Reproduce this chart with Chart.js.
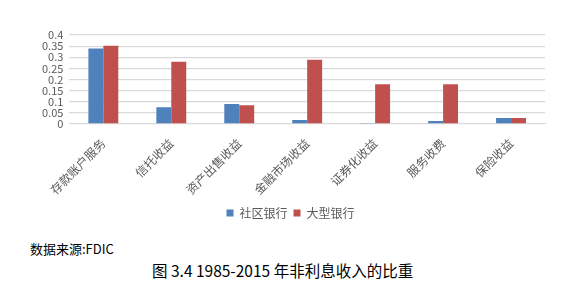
<!DOCTYPE html>
<html><head><meta charset="utf-8">
<script src="https://cdn.jsdelivr.net/npm/chart.js@4/dist/chart.umd.min.js"></script>
<style>
html,body{margin:0;padding:0;background:#fff;width:569px;height:286px;overflow:hidden;}
#wrap{position:absolute;left:0;top:0;width:569px;height:233px;}
.txt{position:absolute;font-family:"Noto Sans CJK SC",sans-serif;color:#000;white-space:nowrap;}
</style></head><body>
<div id="wrap"><canvas id="c"></canvas></div>
<div class="txt" style="left:30px;top:239px;font-size:13px;">数据来源:FDIC</div>
<div class="txt" style="left:152px;top:259px;font-size:15.5px;">图 3.4 1985-2015 年非利息收入的比重</div>
<script>
const categories = ["存款账户服务","信托收益","资产出售收益","金融市场收益","证券化收益","服务收费","保险收益"];
const communityBanks = [0.339, 0.075, 0.089, 0.018, 0.004, 0.013, 0.027];
const largeBanks = [0.352, 0.280, 0.084, 0.289, 0.178, 0.178, 0.027];
const seriesNames = ["社区银行","大型银行"];
const yTicks = [0,0.05,0.1,0.15,0.2,0.25,0.3,0.35,0.4];

const font = "'Noto Sans CJK SC', sans-serif";
new Chart(document.getElementById('c'), {
  type: 'bar',
  data: {
    labels: categories,
    datasets: [
      {label: seriesNames[0], data: communityBanks, backgroundColor: '#4f81bd', borderWidth: 0, categoryPercentage: 0.44, barPercentage: 1},
      {label: seriesNames[1], data: largeBanks, backgroundColor: '#c0504d', borderWidth: 0, categoryPercentage: 0.44, barPercentage: 1}
    ]
  },
  options: {
    responsive: true, maintainAspectRatio: false, animation: false,
    layout: {padding: {left: 36, right: 24, top: 35, bottom: 4}},
    plugins: {
      legend: {position: 'bottom', labels: {boxWidth: 7, boxHeight: 7, padding: 6, color: '#595959', font: {family: font, size: 12}}},
      tooltip: {enabled: false}
    },
    scales: {
      x: {
        grid: {display: false},
        border: {color: '#d9d9d9', width: 1},
        ticks: {minRotation: 45, maxRotation: 45, color: '#595959', font: {family: font, size: 12}, padding: 4}
      },
      y: {
        min: 0, max: 0.4,
        afterBuildTicks: ax => { ax.ticks = yTicks.map(v => ({value: v})); },
        grid: {color: '#d9d9d9', lineWidth: 1.2, drawTicks: false},
        border: {display: false},
        ticks: {autoSkip: false, color: '#595959', font: {family: font, size: 11, lineHeight: 1}, padding: 6, callback: v => String(+(+v).toFixed(2))}
      }
    }
  }
});
</script>
</body></html>
